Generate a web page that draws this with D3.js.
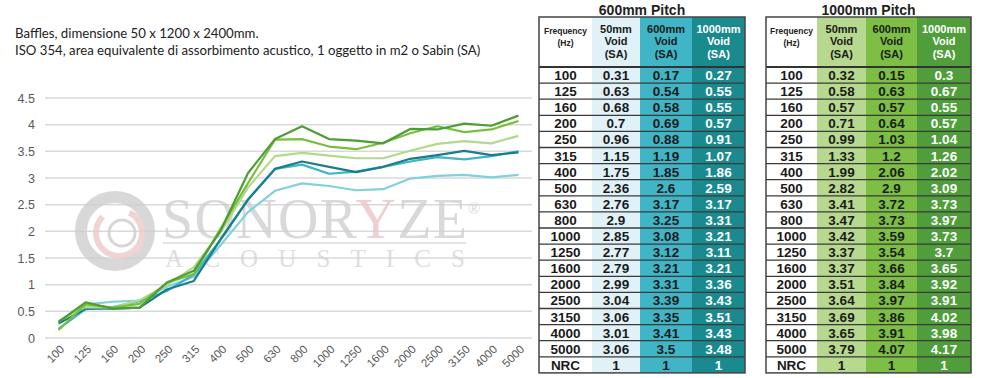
<!DOCTYPE html>
<html><head><meta charset="utf-8">
<script src="https://cdn.jsdelivr.net/npm/d3@7"></script>
<style>body{margin:0;background:#fff}svg{display:block}</style>
</head><body>
<svg id="c" width="1000" height="378"></svg>
<script>
const freqs = ["100","125","160","200","250","315","400","500","630","800","1000","1250","1600","2000","2500","3150","4000","5000"];
const p600_v50   = [0.31,0.63,0.68,0.7,0.96,1.15,1.75,2.36,2.76,2.9,2.85,2.77,2.79,2.99,3.04,3.06,3.01,3.06];
const p600_v600  = [0.17,0.54,0.58,0.69,0.88,1.19,1.85,2.6,3.17,3.25,3.08,3.12,3.21,3.31,3.39,3.35,3.41,3.5];
const p600_v1000 = [0.27,0.55,0.55,0.57,0.91,1.07,1.86,2.59,3.17,3.31,3.21,3.11,3.21,3.36,3.43,3.51,3.43,3.48];
const p1000_v50   = [0.32,0.58,0.57,0.71,0.99,1.33,1.99,2.82,3.41,3.47,3.42,3.37,3.37,3.51,3.64,3.69,3.65,3.79];
const p1000_v600  = [0.15,0.63,0.57,0.64,1.03,1.2,2.06,2.9,3.72,3.73,3.59,3.54,3.66,3.84,3.97,3.86,3.91,4.07];
const p1000_v1000 = [0.3,0.67,0.55,0.57,1.04,1.26,2.02,3.09,3.73,3.97,3.73,3.7,3.65,3.92,3.91,4.02,3.98,4.17];
const nrc600 = ["1","1","1"];
const nrc1000 = ["1","1","1"];
const yTicks = [0,0.5,1,1.5,2,2.5,3,3.5,4,4.5];
const colHeaders = [["50mm","Void","(SA)"],["600mm","Void","(SA)"],["1000mm","Void","(SA)"]];

const svg = d3.select("#c");

// titles
svg.append("text").attr("x",15).attr("y",38).attr("font-family","Lato, 'Open Sans', sans-serif").attr("font-size",13.2).attr("fill","#222").text("Baffles, dimensione 50 x 1200 x 2400mm.");
svg.append("text").attr("x",15).attr("y",55).attr("font-family","Lato, 'Open Sans', sans-serif").attr("font-size",13.2).attr("fill","#222").text("ISO 354, area equivalente di assorbimento acustico, 1 oggetto in m2 o Sabin (SA)");

// scales
const x = d3.scalePoint().domain(freqs).range([45,532]).padding(0.5);
const y = d3.scaleLinear().domain([0,4.5]).range([338,98]);

// gridlines
svg.append("g").selectAll("line").data(yTicks).join("line")
  .attr("x1",45).attr("x2",532).attr("y1",d=>y(d)).attr("y2",d=>y(d))
  .attr("stroke","#d9d9d9").attr("stroke-width",1.5);

// y axis labels
const yAxis = d3.axisLeft(y).tickValues(yTicks).tickSize(0).tickPadding(0).tickFormat(d=>String(d));
const ya = svg.append("g").attr("transform","translate(35,0)").call(yAxis);
ya.select(".domain").remove();
ya.selectAll("text").attr("font-family","'Liberation Sans', Arial, sans-serif").attr("font-size",12.5).attr("fill","#595959");

// x axis labels
const xAxis = d3.axisBottom(x).tickSize(0).tickPadding(0);
const xa = svg.append("g").attr("transform","translate(0,346)").call(xAxis);
xa.select(".domain").remove();
xa.selectAll("text").attr("font-family","'Liberation Sans', Arial, sans-serif").attr("font-size",11.5).attr("fill","#595959")
  .attr("text-anchor","end").attr("dy",0).attr("transform","translate(6,4) rotate(-45)");

// watermark
const wm = svg.append("g").attr("opacity",0.8);
wm.append("circle").attr("cx",115).attr("cy",231).attr("r",34).attr("fill","none").attr("stroke","#cfcfcf").attr("stroke-width",12);
const arc = d3.arc().innerRadius(20).outerRadius(26).startAngle(Math.PI*0.15).endAngle(Math.PI*1.75);
wm.append("path").attr("d",arc()).attr("transform","translate(119,233)").attr("fill","#f0c9c9");
wm.append("circle").attr("cx",122).attr("cy",233).attr("r",13).attr("fill","none").attr("stroke","#cdcdcd").attr("stroke-width",3);
const st = wm.append("text").attr("x",162).attr("y",238).attr("font-family","'Liberation Serif','DejaVu Serif',serif").attr("font-size",56).attr("fill","#d0d0d0").attr("textLength",305).attr("lengthAdjust","spacing");
st.append("tspan").text("SONOR");
st.append("tspan").attr("fill","#ebc5c9").text("Y");
st.append("tspan").text("ZE");
wm.append("text").attr("x",468).attr("y",214).attr("font-family","'Liberation Serif',serif").attr("font-size",16).attr("fill","#d0d0d0").text("®");
wm.append("line").attr("x1",163).attr("x2",466).attr("y1",243).attr("y2",243).attr("stroke","#d2d2d2").attr("stroke-width",1.5);
wm.append("text").attr("x",165).attr("y",267).attr("font-family","'Liberation Serif',serif").attr("font-size",25).attr("fill","#d6d6d6").attr("textLength",300).attr("lengthAdjust","spacing").text("ACOUSTICS");

// lines
const series = [
  {v:p600_v50, c:"#80d0de"},
  {v:p600_v600, c:"#3db4c7"},
  {v:p600_v1000, c:"#1a7d8c"},
  {v:p1000_v50, c:"#b3d98a"},
  {v:p1000_v600, c:"#79bf3c"},
  {v:p1000_v1000, c:"#4e9c36"}
];
const line = d3.line().x((d,i)=>x(freqs[i])).y(d=>y(d));
svg.append("g").selectAll("path").data(series).join("path")
  .attr("d",d=>line(d.v)).attr("fill","none").attr("stroke",d=>d.c).attr("stroke-width",2.2).attr("stroke-linejoin","round");

// tables
function drawTable(x0, cols, title, colors, textColors, data, nrc){
  const g = svg.append("g");
  const edges = [x0]; cols.forEach(w=>edges.push(edges[edges.length-1]+w));
  const top = 17, hb = 67, rh = 16.1;
  const rows = freqs.length + 1;
  const bottom = hb + rows*rh;
  g.append("text").attr("x",(edges[0]+edges[4])/2).attr("y",15).attr("text-anchor","middle")
    .attr("font-family","'Liberation Sans',Arial,sans-serif").attr("font-weight","bold").attr("font-size",14).attr("fill","#222").text(title);
  for(let c=0;c<4;c++){
    g.append("rect").attr("x",edges[c]).attr("y",top).attr("width",edges[c+1]-edges[c]).attr("height",bottom-top).attr("fill",colors[c]);
  }
  g.append("text").attr("x",(edges[0]+edges[1])/2).attr("y",34).attr("text-anchor","middle").attr("font-family","'Liberation Sans',Arial,sans-serif").attr("font-weight","bold").attr("font-size",8.5).attr("fill","#222").text("Frequency");
  g.append("text").attr("x",(edges[0]+edges[1])/2).attr("y",46).attr("text-anchor","middle").attr("font-family","'Liberation Sans',Arial,sans-serif").attr("font-weight","bold").attr("font-size",8.5).attr("fill","#222").text("(Hz)");
  colHeaders.forEach((h,ci)=>{
    h.forEach((t,li)=>{
      g.append("text").attr("x",(edges[ci+1]+edges[ci+2])/2).attr("y",33+li*12.3).attr("text-anchor","middle")
        .attr("font-family","'Liberation Sans',Arial,sans-serif").attr("font-weight","bold").attr("font-size",11).attr("fill",textColors[ci+1]).text(t);
    });
  });
  const allRows = freqs.map((f,i)=>[f, String(data[0][i]), String(data[1][i]), String(data[2][i])]);
  allRows.push(["NRC"].concat(nrc));
  allRows.forEach((r,i)=>{
    r.forEach((t,ci)=>{
      g.append("text").attr("x",(edges[ci]+edges[ci+1])/2).attr("y",hb+i*rh+rh/2+5).attr("text-anchor","middle")
        .attr("font-family","'Liberation Sans',Arial,sans-serif").attr("font-weight","bold").attr("font-size",13.5).attr("fill",textColors[ci]).text(t);
    });
  });
  for(let i=1;i<rows;i++){
    g.append("line").attr("x1",edges[0]).attr("x2",edges[4]).attr("y1",hb+i*rh).attr("y2",hb+i*rh).attr("stroke","#3a3a3a").attr("stroke-width",1.3);
  }
  g.append("line").attr("x1",edges[0]).attr("x2",edges[4]).attr("y1",hb).attr("y2",hb).attr("stroke","#333").attr("stroke-width",2.2);
  g.append("rect").attr("x",edges[0]).attr("y",top).attr("width",edges[4]-edges[0]).attr("height",bottom-top).attr("fill","none").attr("stroke","#444").attr("stroke-width",1.5);
}
drawTable(539,[53,48,52,53],"600mm Pitch",["#ffffff","#e0f1f8","#3fb5c6","#1b8a8f"],["#1a1a1a","#1a1a1a","#1a1a1a","#ffffff"],[p600_v50,p600_v600,p600_v1000],nrc600);
drawTable(766,[51,49,51,54],"1000mm Pitch",["#ffffff","#b6d98f","#7dbe45","#4f9d3b"],["#1a1a1a","#1a1a1a","#1a1a1a","#ffffff"],[p1000_v50,p1000_v600,p1000_v1000],nrc1000);
</script>
</body></html>
